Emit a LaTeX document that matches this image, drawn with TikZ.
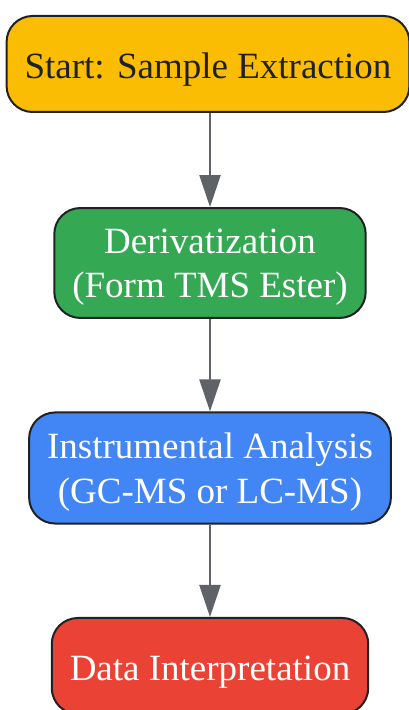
\documentclass[tikz,border=0pt]{standalone}
\usepackage{fontspec}
\setmainfont{Liberation Serif}
\usepackage{tikz}
\usetikzlibrary{arrows.meta}
\definecolor{startyellow}{HTML}{FBBC04}
\definecolor{stepgreen}{HTML}{34A853}
\definecolor{stepblue}{HTML}{4285F4}
\definecolor{stepred}{HTML}{EA4335}
\definecolor{darkline}{HTML}{202124}
\definecolor{arrowgray}{HTML}{5F6368}

\begin{document}
\begin{tikzpicture}[x=1pt,y=1pt,
	stepbox/.style={draw=darkline,line width=2pt,rectangle,rounded corners=26pt,
		inner xsep=18pt,inner ysep=20.5pt,minimum height=96pt,align=center,
		text depth=0pt,font=\fontsize{37}{44.4}\selectfont},
	oneline/.style={text height=30pt},
	flow/.style={draw=arrowgray,line width=2.3pt,-{Triangle[length=32pt,width=21pt]}}]
	\useasboundingbox (0,0) rectangle (409,710);
	\node[stepbox,oneline,fill=startyellow,text=darkline] (s1) at (208,646) {Start: Sample Extraction};
	\node[stepbox,fill=stepgreen,text=white] (s2) at (210,447) {Derivatization\\(Form TMS Ester)};
	\node[stepbox,fill=stepblue,text=white] (s3) at (210,242) {Instrumental Analysis\\(GC-MS or LC-MS)};
	\node[stepbox,oneline,fill=stepred,text=white] (s4) at (210,44) {Data Interpretation};
	\path
	(s1.south -| s2.north) edge[flow] (s2)
	(s2) edge[flow] (s3)
	(s3) edge[flow] (s4)
	;
\end{tikzpicture}
\end{document}
